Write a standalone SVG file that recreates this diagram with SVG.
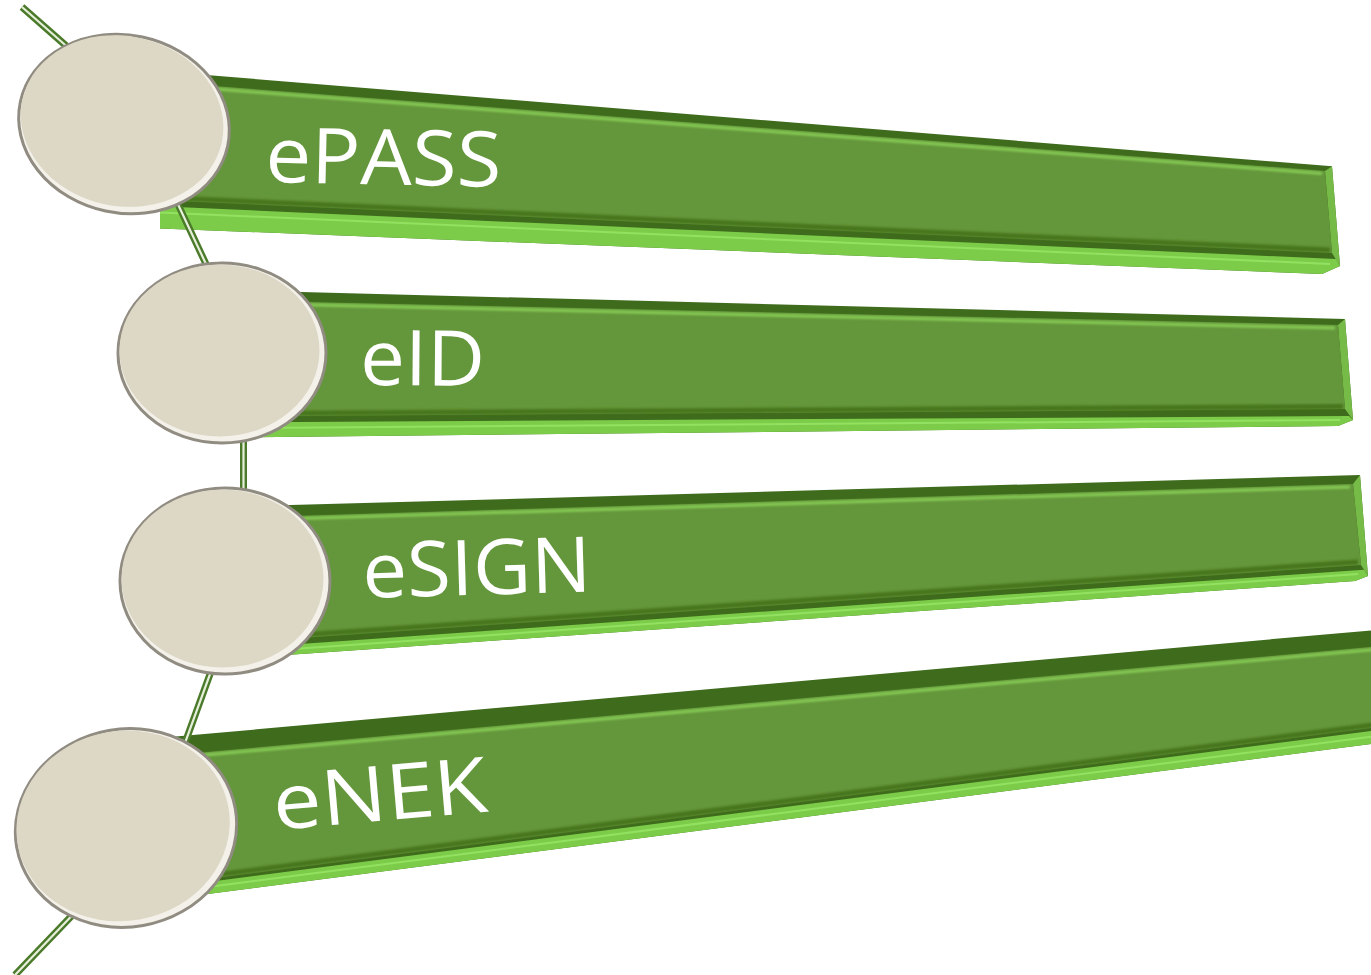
<svg xmlns="http://www.w3.org/2000/svg" width="1371" height="975" viewBox="0 0 1371 975">
<style>
.outer{fill:#3e6b1c}
.rim{fill:#7ccc4a}
.rimline{stroke:#93e160;stroke-width:2;fill:none}
.bevel{fill:#76bb47}
.face{fill:#64963b}
.hl{stroke:#86cb55;stroke-width:3;fill:none;filter:url(#soft)}
.dk{stroke:#46761f;stroke-width:5;fill:none;filter:url(#soft)}
.lbl{font-family:"Open Sans","DejaVu Sans",sans-serif;fill:#ffffff;font-size:77px}
.ring{fill:#f3f1e9;stroke:#918c82;stroke-width:3}
.disc{fill:#ddd8c5}
.wire{fill:none;stroke:#4a7a2a;stroke-width:7;stroke-linejoin:round}
.wirec{fill:none;stroke:#e6efda;stroke-width:2.2;stroke-linejoin:round}
</style>
<defs>
<filter id="soft" x="-5%" y="-50%" width="110%" height="200%"><feGaussianBlur stdDeviation="1.2"/></filter>
</defs>
<rect width="1371" height="975" fill="#ffffff"/>

<g id="bar-epass">
<polygon class="outer" points="160,71.3 1332,166.3 1340,266 1322,274 160,228.4"/>
<polygon class="rim" points="160,206.2 1336,259 1340,266 1322,274 160,228.4"/>
<line class="rimline" x1="160" y1="212.4" x2="1330" y2="264"/>
<polygon class="bevel" points="1325,171 1332,166.3 1340,266 1332,253"/>
<polygon class="face" points="160,82 1325,171 1332,253 160,200.2"/>
<line class="hl" x1="160" y1="84.8" x2="1322" y2="173.5"/>
<line class="dk" x1="160" y1="197.4" x2="1330" y2="250"/>
<text class="lbl" x="265" y="182" textLength="236" lengthAdjust="spacingAndGlyphs" transform="rotate(1.2 265 182)">ePASS</text>
</g>

<g id="bar-eid">
<polygon class="outer" points="250,290.7 1345,319 1353,420 1338,426 250,437.3"/>
<polygon class="rim" points="250,422.3 1349,416 1353,420 1338,426 250,437.3"/>
<line class="rimline" x1="250" y1="428" x2="1340" y2="420"/>
<polygon class="bevel" points="1338,325 1345,319 1353,420 1345,409"/>
<polygon class="face" points="250,300.8 1338,325 1345,409 250,416.3"/>
<line class="hl" x1="250" y1="303.5" x2="1335" y2="328"/>
<line class="dk" x1="250" y1="413.5" x2="1343" y2="406.5"/>
<text class="lbl" x="360" y="385" textLength="125" lengthAdjust="spacingAndGlyphs" transform="rotate(0.4 360 385)">eID</text>
</g>

<g id="bar-esign">
<polygon class="outer" points="250,506.2 1360,475 1368,576 1355,581 250,657.6"/>
<polygon class="rim" points="250,647.5 1364,569.7 1368,576 1355,581 250,657.6"/>
<line class="rimline" x1="250" y1="652" x2="1358" y2="574"/>
<polygon class="bevel" points="1353,484 1360,475 1368,576 1361,565"/>
<polygon class="face" points="250,517.3 1353,484 1361,565 250,641.5"/>
<line class="hl" x1="250" y1="520" x2="1350" y2="487"/>
<line class="dk" x1="250" y1="638.5" x2="1358" y2="562"/>
<text class="lbl" x="363" y="598" textLength="229" lengthAdjust="spacingAndGlyphs" transform="rotate(-1.6 363 598)">eSIGN</text>
</g>

<g id="bar-enek">
<polygon class="outer" points="150,738.8 1380,629.6 1380,742.9 150,901.4"/>
<polygon class="rim" points="150,889.4 1380,729.8 1380,742.9 150,901.4"/>
<line class="rimline" x1="150" y1="894.5" x2="1380" y2="735.5"/>
<polygon class="face" points="150,757.2 1380,646.3 1380,726.8 150,886.4"/>
<line class="hl" x1="150" y1="760" x2="1380" y2="649"/>
<line class="dk" x1="150" y1="883.5" x2="1380" y2="724"/>
<text class="lbl" x="275" y="830" textLength="215" lengthAdjust="spacingAndGlyphs" transform="rotate(-5 275 830)">eNEK</text>
</g>

<g id="connectors">
<polyline class="wire" points="22,7 130,102 243.5,344 243.5,582 153,831 15,975"/>
<polyline class="wirec" points="22,7 130,102 243.5,344 243.5,582 153,831 15,975"/>
</g>

<g id="circle-1" transform="rotate(12 124 124)">
<ellipse class="ring" cx="124" cy="124" rx="106" ry="89"/>
<ellipse class="disc" cx="121.5" cy="121.5" rx="102" ry="85"/>
</g>
<g id="circle-2">
<ellipse class="ring" cx="222" cy="353" rx="104" ry="90"/>
<ellipse class="disc" cx="219.5" cy="350.5" rx="100" ry="86"/>
</g>
<g id="circle-3">
<ellipse class="ring" cx="225" cy="581" rx="105" ry="93"/>
<ellipse class="disc" cx="222.5" cy="578.5" rx="101" ry="89"/>
</g>
<g id="circle-4" transform="rotate(-10 126 828)">
<ellipse class="ring" cx="126" cy="828" rx="111" ry="99"/>
<ellipse class="disc" cx="123.5" cy="825.5" rx="107" ry="95"/>
</g>
</svg>
